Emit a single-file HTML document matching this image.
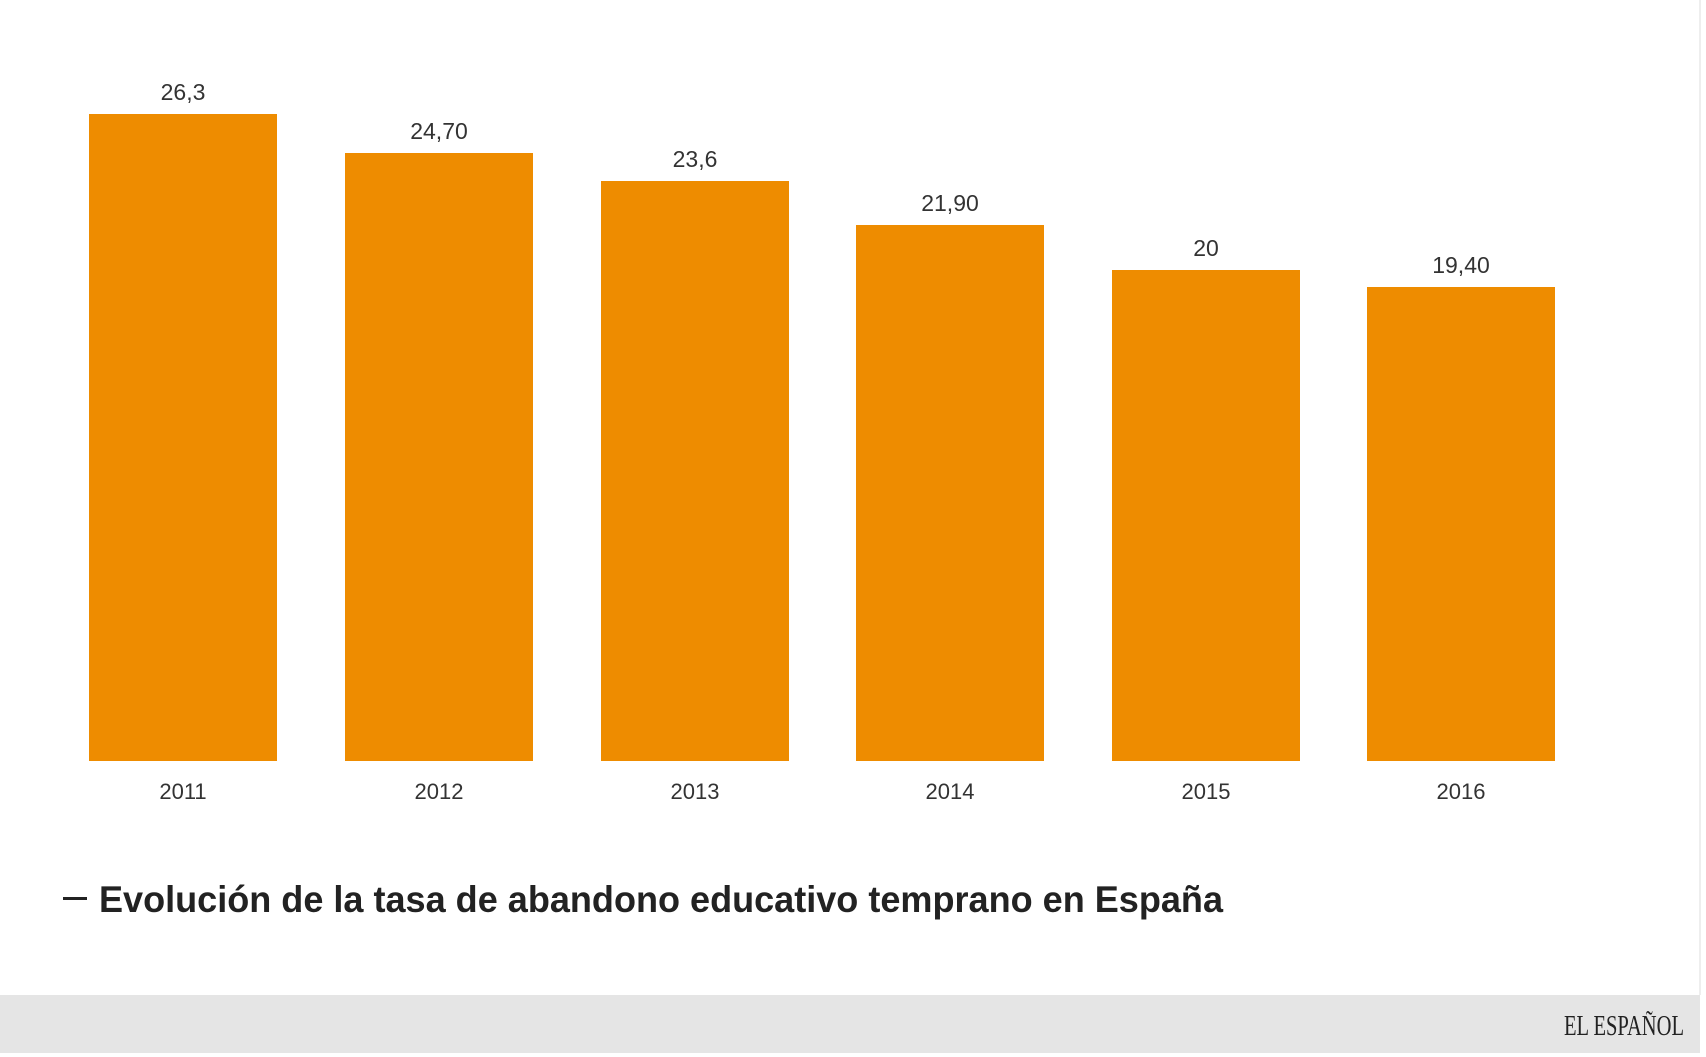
<!DOCTYPE html>
<html><head><meta charset="utf-8"><style>html,body{margin:0;padding:0;background:#fff}svg{display:block}</style></head>
<body>
<svg width="1706" height="1057" viewBox="0 0 1706 1057" xmlns="http://www.w3.org/2000/svg" font-family="Liberation Sans, sans-serif">
<rect width="1706" height="1057" fill="#fff"/>
<g fill="#ee8c00">
<rect x="89" y="114" width="188" height="647"/>
<rect x="345" y="153" width="188" height="608"/>
<rect x="601" y="181" width="188" height="580"/>
<rect x="856" y="225" width="188" height="536"/>
<rect x="1112" y="270" width="188" height="491"/>
<rect x="1367" y="287" width="188" height="474"/>
</g>
<g fill="#333" font-size="23" text-anchor="middle">
<text x="183" y="100">26,3</text>
<text x="439" y="139">24,70</text>
<text x="695" y="167">23,6</text>
<text x="950" y="211">21,90</text>
<text x="1206" y="256">20</text>
<text x="1461" y="273">19,40</text>
</g>
<g fill="#333" font-size="22" text-anchor="middle">
<text x="183" y="799">2011</text>
<text x="439" y="799">2012</text>
<text x="695" y="799">2013</text>
<text x="950" y="799">2014</text>
<text x="1206" y="799">2015</text>
<text x="1461" y="799">2016</text>
</g>
<rect x="63" y="897" width="24" height="3" fill="#222"/>
<text x="99" y="912" font-size="37" font-weight="bold" fill="#222" textLength="1124" lengthAdjust="spacingAndGlyphs">Evolución de la tasa de abandono educativo temprano en España</text>
<rect x="1699" y="0" width="2" height="995" fill="#eee"/>
<rect x="0" y="995" width="1700" height="58" fill="#e5e5e5"/>
<text x="1564" y="1035" font-family="Liberation Serif, serif" font-size="28" fill="#222" textLength="120" lengthAdjust="spacingAndGlyphs">EL ESPAÑOL</text>
</svg>
</body></html>
